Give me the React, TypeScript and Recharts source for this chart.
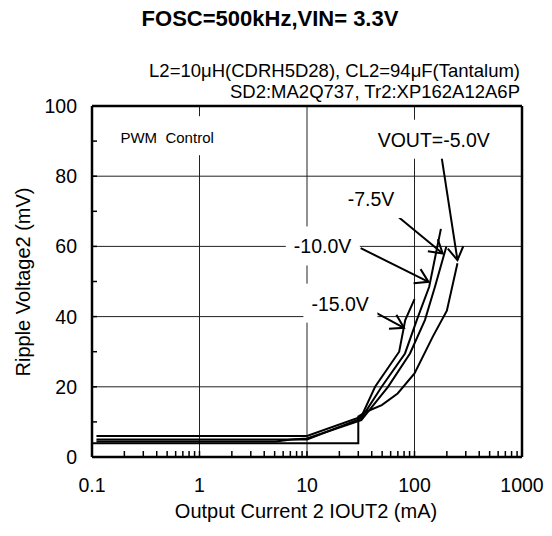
import { LineChart, Line, XAxis, YAxis, ReferenceLine, ReferenceDot } from "recharts";

// axis ticks
const xMajor = [0.1, 1, 10, 100, 1000];
const xMinorSteps = [2, 3, 4, 5, 6, 7, 8, 9];
const yTicks = [0, 10, 20, 30, 40, 50, 60, 70, 80, 90, 100];
const yLabels = [0, 20, 40, 60, 80, 100];
const xGrid = [1, 10, 100];
const yGrid = [20, 40, 60, 80];

// ripple curves (IOUT2 in mA, ripple in mV)
const vout15X = [0.11, 10, 32, 43, 72, 82, 100];
const vout15Y = [6.0, 6.0, 11.5, 20, 30, 39, 45];
const vout10X = [0.11, 10, 32, 49.5, 81.6, 105, 137, 176];
const vout10Y = [5.0, 5.0, 11, 20, 29.5, 39, 48.5, 65];
const vout75X = [0.11, 5.1, 7.2, 10, 32, 56.7, 90.8, 125, 155, 198];
const vout75Y = [4.4, 4.4, 5.0, 5.3, 10.5, 20, 29.5, 39, 48.5, 60];
const vout5X = [0.1, 30, 30, 35.5, 49.6, 69.7, 100, 148, 200, 251];
const vout5Y = [3.9, 3.9, 11.5, 12.9, 14.8, 18.1, 23.8, 34.3, 41.7, 55.2];

// annotation arrows: [fromX, fromY, toX, toY]
const arrow5 = [179, 85.3, 251, 56.1];
const arrow75 = [49.6, 72.3, 183, 58.0];
const arrow10 = [31.6, 59.5, 135, 49.9];
const arrow15 = [35.4, 42.6, 79.8, 36.8];

// annotation labels: text, anchor (x, y), box width, font size
const notes = [
  { text: "PWM  Control", x: 0.184, y: 89.4, w: 96, size: 15 },
  { text: "VOUT=-5.0V", x: 45.4, y: 88.4, w: 113, size: 19.5 },
  { text: "-7.5V", x: 23.9, y: 71.5, w: 47, size: 19.5 },
  { text: "-10.0V", x: 7.54, y: 58.0, w: 58, size: 19.5 },
  { text: "-15.0V", x: 10.99, y: 41.7, w: 58, size: 19.5 },
];

const font = "'Liberation Sans', Arial, sans-serif";

const toPoints = (xs: number[], ys: number[]) => xs.map((x, i) => ({ x, y: ys[i] }));

const xTicks: number[] = [];
xMajor.forEach((d, i) => {
  xTicks.push(d);
  if (i < xMajor.length - 1) {
    xMinorSteps.forEach((m) => xTicks.push(Number((m * d).toPrecision(3))));
  }
});

function XTick({ x, y, payload }: any) {
  const v = payload.value;
  const major = xMajor.includes(v);
  return (
    <g>
      <line x1={x} y1={y} x2={x} y2={y - 6} stroke="#000" strokeWidth={1.5} />
      {major && (
        <text x={x} y={y + 35} textAnchor="middle" fontSize={19.5} fontFamily={font} fill="#000">
          {v}
        </text>
      )}
    </g>
  );
}

function YTick({ x, y, payload }: any) {
  const v = payload.value;
  return (
    <g>
      <line x1={x} y1={y} x2={x + 5} y2={y} stroke="#000" strokeWidth={1.5} />
      {yLabels.includes(v) && (
        <text x={x - 15} y={y} dy="0.36em" textAnchor="end" fontSize={19.5} fontFamily={font} fill="#000">
          {v}
        </text>
      )}
    </g>
  );
}

function Arrow(props: any) {
  const { x1, y1, x2, y2 } = props;
  const ang = Math.atan2(y1 - y2, x1 - x2);
  const len = 15;
  const spread = 0.55;
  const ax = x2 + len * Math.cos(ang + spread);
  const ay = y2 + len * Math.sin(ang + spread);
  const bx = x2 + len * Math.cos(ang - spread);
  const by = y2 + len * Math.sin(ang - spread);
  return (
    <g>
      <line x1={x1} y1={y1} x2={x2} y2={y2} stroke="#000" strokeWidth={2} />
      <polyline points={`${ax},${ay} ${x2},${y2} ${bx},${by}`} fill="none" stroke="#000" strokeWidth={2} />
    </g>
  );
}

function makeNote(n: { text: string; w: number; size: number }) {
  return (props: any) => {
    const { cx, cy } = props;
    return (
      <g>
        <rect x={cx - 8} y={cy - 27} width={n.w + 16} height={39} fill="#fff" />
        <text x={cx} y={cy} fontSize={n.size} fontFamily={font} fill="#000" style={{ whiteSpace: "pre" }}>
          {n.text}
        </text>
      </g>
    );
  };
}

const series = [
  { name: "-15.0V", data: toPoints(vout15X, vout15Y) },
  { name: "-10.0V", data: toPoints(vout10X, vout10Y) },
  { name: "-7.5V", data: toPoints(vout75X, vout75Y) },
  { name: "-5.0V", data: toPoints(vout5X, vout5Y) },
];

const arrows = [arrow5, arrow75, arrow10, arrow15];

export default function App() {
  return (
    <div style={{ position: "absolute", left: 0, top: 0, width: 552, height: 536, background: "#fff", fontFamily: font }}>
      <LineChart width={552} height={536} margin={{ top: 106, right: 30, bottom: 29, left: 32 }}>
        <XAxis
          dataKey="x"
          type="number"
          scale="log"
          domain={[0.1, 1000]}
          allowDataOverflow
          ticks={xTicks}
          interval={0}
          height={50}
          tickSize={0}
          tickMargin={0}
          tick={<XTick />}
          axisLine={{ stroke: "#000", strokeWidth: 2.5 }}
        />
        <YAxis
          dataKey="y"
          type="number"
          domain={[0, 100]}
          ticks={yTicks}
          interval={0}
          width={60}
          tickSize={0}
          tickMargin={0}
          tick={<YTick />}
          axisLine={{ stroke: "#000", strokeWidth: 2.5 }}
        />
        {xGrid.map((v) => (
          <ReferenceLine key={`gx${v}`} x={v} stroke="#222" strokeWidth={1} />
        ))}
        {yGrid.map((v) => (
          <ReferenceLine key={`gy${v}`} y={v} stroke="#222" strokeWidth={1} />
        ))}
        <ReferenceLine y={100} stroke="#000" strokeWidth={2.5} ifOverflow="visible" />
        <ReferenceLine x={1000} stroke="#000" strokeWidth={2.5} ifOverflow="visible" />
        {notes.map((n) => (
          <ReferenceDot key={n.text} x={n.x} y={n.y} r={0} ifOverflow="visible" shape={makeNote(n)} />
        ))}
        {series.map((s) => (
          <Line
            key={s.name}
            name={s.name}
            data={s.data}
            dataKey="y"
            type="linear"
            stroke="#000"
            strokeWidth={2}
            dot={false}
            isAnimationActive={false}
          />
        ))}
        {arrows.map((a, i) => (
          <ReferenceLine
            key={`ar${i}`}
            segment={[
              { x: a[0], y: a[1] },
              { x: a[2], y: a[3] },
            ]}
            ifOverflow="visible"
            shape={Arrow}
          />
        ))}
      </LineChart>
      <svg width={552} height={536} style={{ position: "absolute", left: 0, top: 0, pointerEvents: "none" }}>
        <text x={270} y={26} textAnchor="middle" fontSize={22} fontWeight="bold" fontFamily={font}>
          FOSC=500kHz,VIN= 3.3V
        </text>
        <text x={520} y={77} textAnchor="end" fontSize={18.5} fontFamily={font}>
          L2=10μH(CDRH5D28), CL2=94μF(Tantalum)
        </text>
        <text x={520} y={98} textAnchor="end" fontSize={18.5} fontFamily={font}>
          SD2:MA2Q737, Tr2:XP162A12A6P
        </text>
        <text x={306} y={518} textAnchor="middle" fontSize={20} fontFamily={font}>
          Output Current 2 IOUT2 (mA)
        </text>
        <text
          x={30}
          y={282}
          textAnchor="middle"
          fontSize={20}
          fontFamily={font}
          transform="rotate(-90 30 282)"
        >
          Ripple Voltage2 (mV)
        </text>
      </svg>
    </div>
  );
}
